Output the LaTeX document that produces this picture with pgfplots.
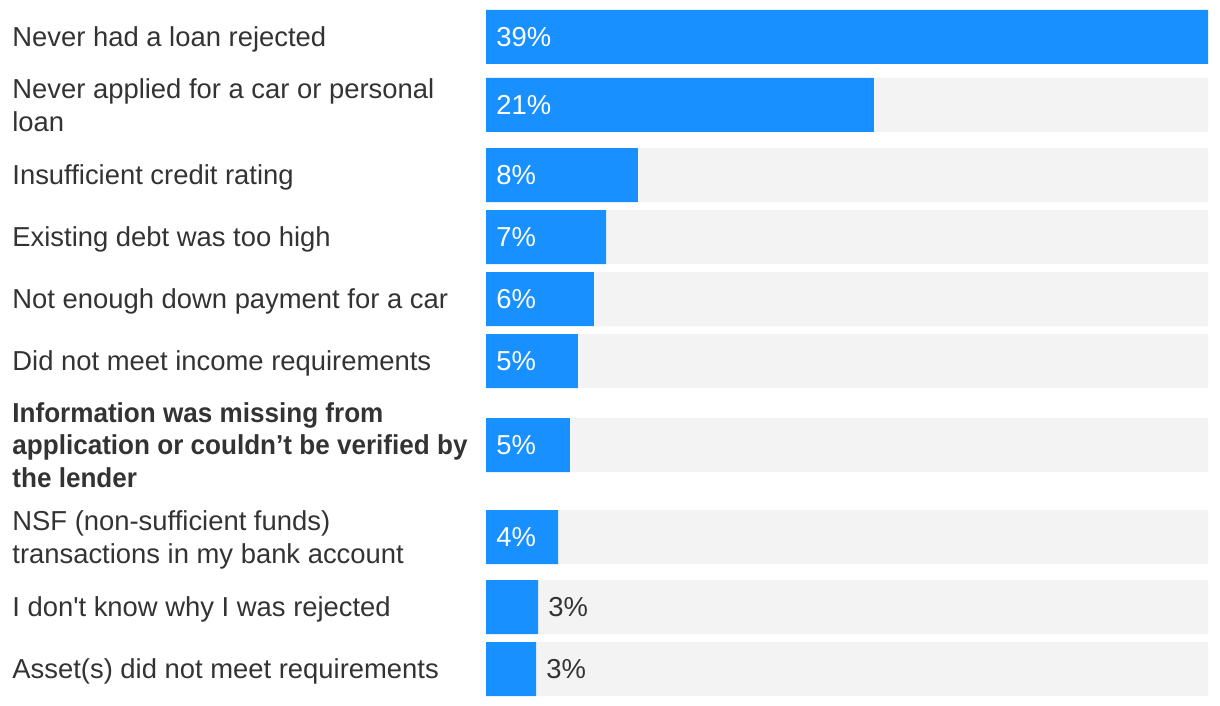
\documentclass[border=0pt]{standalone}
\usepackage{pgfplots}
\pgfplotsset{compat=1.18}
\usepackage{fontspec}
\setmainfont{Liberation Sans}
\definecolor{barblue}{HTML}{1890FF}
\definecolor{track}{HTML}{F3F3F3}
\definecolor{txt}{HTML}{333333}
\newcommand{\bl}[1]{\scalebox{0.952}[1]{\bfseries #1}}

\begin{document}
\begin{tikzpicture}[
  lbl/.style={anchor=base west, inner sep=0pt, font=\fontsize{13.7}{16.3}\selectfont, text=txt},
  pct/.style={lbl, text=white},
]
% y runs in pixels from the top, x in percent (0 at the start of the bars)
\begin{axis}[
  width=610pt, height=353pt, scale only axis,
  xmin=-26.521, xmax=40.055,
  ymin=0, ymax=706, y dir=reverse,
  axis lines=none, clip=false,
  xbar, bar width=54, bar shift=0pt,
]
\path (rel axis cs:0,0) rectangle (rel axis cs:1,1);

% grey tracks
\addplot[fill=track, draw=none] coordinates {
(39.4,37) (39.4,105) (39.4,175) (39.4,237) (39.4,299)
(39.4,361) (39.4,445) (39.4,537) (39.4,607) (39.4,669)
};
% shares
\addplot[fill=barblue, draw=none] coordinates {
(39.4,37) (21.17,105) (8.29,175) (6.55,237) (5.89,299)
(5.02,361) (4.58,445) (3.93,537) (2.84,607) (2.73,669)
};

% category labels
\node[lbl] at (axis cs:-25.866,46.8) {Never had a loan rejected};
\node[lbl] at (axis cs:-25.866,98.5) {Never applied for a car or personal};
\node[lbl] at (axis cs:-25.866,131.1) {loan};
\node[lbl] at (axis cs:-25.866,184.8) {Insufficient credit rating};
\node[lbl] at (axis cs:-25.866,246.8) {Existing debt was too high};
\node[lbl] at (axis cs:-25.866,308.8) {Not enough down payment for a car};
\node[lbl] at (axis cs:-25.866,370.8) {Did not meet income requirements};
\node[lbl] at (axis cs:-25.866,422.2) {\bl{Information was missing from}};
\node[lbl] at (axis cs:-25.866,454.8) {\bl{application or couldn’t be verified by}};
\node[lbl] at (axis cs:-25.866,487.4) {\bl{the lender}};
\node[lbl] at (axis cs:-25.866,530.5) {NSF (non-sufficient funds)};
\node[lbl] at (axis cs:-25.866,563.1) {transactions in my bank account};
\node[lbl] at (axis cs:-25.866,616.8) {I don\textquotesingle t know why I was rejected};
\node[lbl] at (axis cs:-25.866,678.8) {Asset(s) did not meet requirements};

% value labels
\node[pct] at (axis cs:0.546,46.8) {39\%};
\node[pct] at (axis cs:0.546,114.8) {21\%};
\node[pct] at (axis cs:0.546,184.8) {8\%};
\node[pct] at (axis cs:0.546,246.8) {7\%};
\node[pct] at (axis cs:0.546,308.8) {6\%};
\node[pct] at (axis cs:0.546,370.8) {5\%};
\node[pct] at (axis cs:0.546,454.8) {5\%};
\node[pct] at (axis cs:0.546,546.8) {4\%};
\node[lbl] at (axis cs:3.386,616.8) {3\%};
\node[lbl] at (axis cs:3.276,678.8) {3\%};
\end{axis}
\end{tikzpicture}
\end{document}
